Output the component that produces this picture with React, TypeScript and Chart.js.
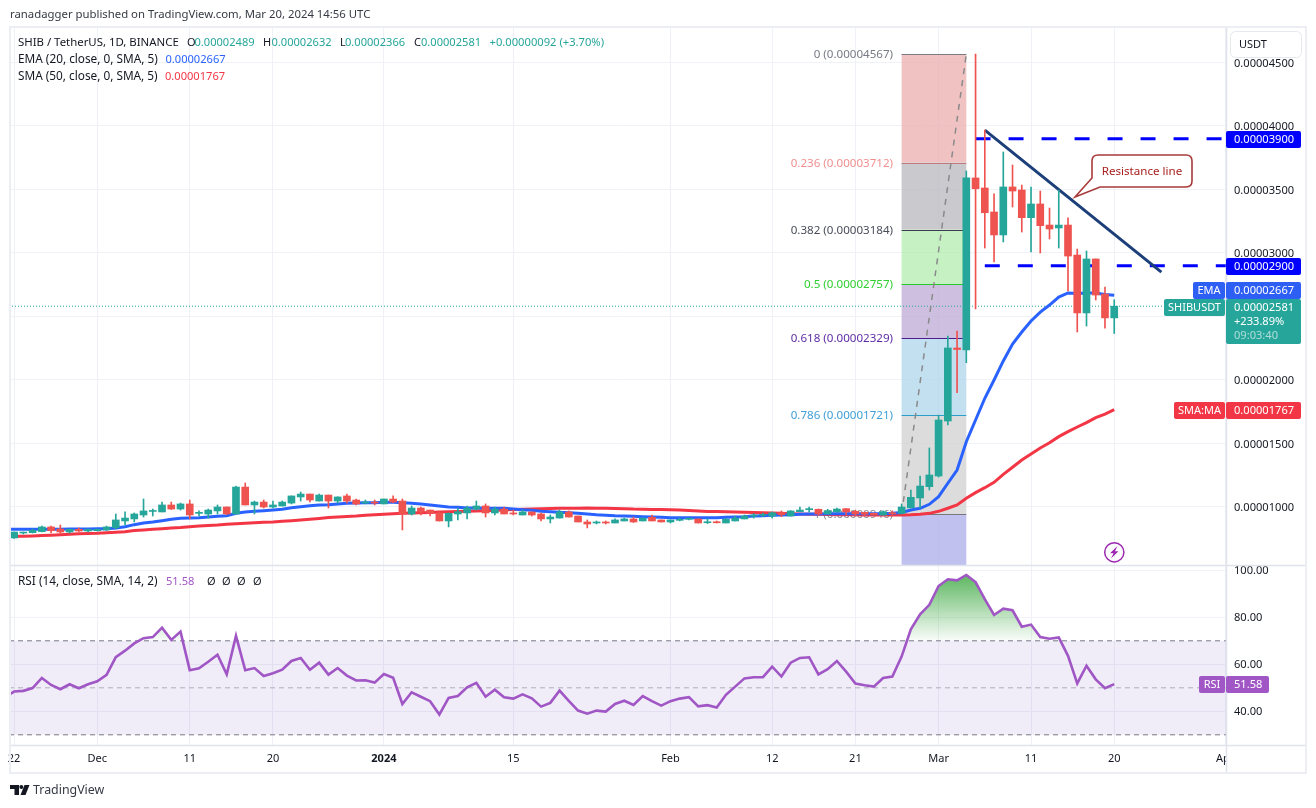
import React, { useEffect, useRef } from "react";
import { Chart, registerables } from "chart.js";

Chart.register(...registerables);

// Prices are kept in units of 0.00000001 USDT.
const PRICE_UNIT = 1e-8;

const opens = [
  756,795,798,806,843,827,803,824,811,813,
  819,837,890,906,937,965,961,1016,984,1024,
  950,945,969,1000,945,1157,1016,1039,1000,1008,
  1031,1079,1102,1047,1094,1047,1087,1055,1031,1037,
  1024,1063,1047,945,992,976,953,890,945,953,
  984,1008,953,984,953,937,961,945,906,913,
  961,929,882,874,882,874,890,906,890,919,
  898,882,895,903,906,876,884,874,890,906,
  929,935,929,955,929,963,979,982,945,961,
  987,966,958,950,937,955,950,994,1071,1160,
  1244,1677,2252,2236,3591,3512,3323,3142,3520,3496,
  3278,3386,3220,3197,3220,2984,2528,2953,2677,2489,
];
const closes = [
  803,801,817,843,813,803,824,811,824,824,
  843,898,913,945,969,972,1016,984,1024,937,
  958,976,1000,945,1157,1016,1039,1000,1016,1039,
  1087,1102,1055,1094,1047,1079,1047,1024,1039,1031,
  1063,1039,945,992,961,953,890,950,963,992,
  1008,953,984,945,945,961,937,906,921,961,
  921,882,866,882,874,898,906,882,913,890,
  882,898,903,908,874,884,876,903,913,929,
  937,943,955,939,969,976,987,945,971,984,
  961,945,943,939,963,947,1000,1076,1165,1252,
  1685,2252,2240,3591,3506,3317,3142,3520,3488,3278,
  3386,3215,3189,3220,2976,2528,2953,2669,2489,2581,
];
const highs = [
  803,803,827,850,850,858,827,835,827,827,
  850,945,961,953,1063,984,1039,1039,1031,1055,
  969,984,1016,1000,1165,1189,1047,1055,1047,1047,
  1087,1118,1102,1102,1094,1081,1102,1063,1055,1055,
  1063,1087,1063,1008,1000,976,961,953,992,1008,
  1047,1024,1000,1000,976,976,961,953,937,976,
  969,929,898,890,890,906,913,921,913,937,
  898,898,913,913,906,908,890,911,929,937,
  947,953,961,969,972,1000,1000,984,982,992,
  988,976,961,953,969,969,1024,1134,1244,1465,
  1724,2346,2386,3646,4567,3968,3465,3795,3693,3535,
  3520,3488,3354,3496,3276,3031,3016,2953,2732,2632,
];
const lows = [
  752,787,795,803,795,795,795,807,803,811,
  815,827,858,882,921,929,961,980,976,906,
  929,913,945,941,941,1016,945,992,992,1008,
  1024,1047,1039,1047,992,1031,1031,1016,1024,1016,
  1024,1035,819,937,937,929,890,843,898,906,
  976,921,937,945,937,937,929,890,874,913,
  921,882,835,866,866,874,890,878,890,890,
  882,874,890,898,874,870,874,874,890,906,
  913,924,913,924,929,961,961,937,945,961,
  937,929,929,937,937,937,945,992,992,1134,
  1236,1646,1900,2136,2559,3039,2929,3087,3362,3165,
  3008,3000,3110,3039,2701,2378,2425,2630,2409,2366,
];
// ema, sma and rsi begin one day before the first candle (the day at index -1).
const ema = [
  824,824,824,824,824,825,825,826,826,827,828,
  829,835,845,861,874,882,892,903,911,913,
  916,921,927,931,950,961,966,971,976,982,
  994,1002,1010,1016,1018,1024,1029,1031,1034,1034,
  1037,1037,1034,1029,1024,1016,1008,1000,998,992,
  992,990,990,990,984,979,974,966,963,958,
  955,950,945,939,935,931,929,927,924,921,
  919,916,916,916,916,916,916,919,921,924,
  929,931,935,937,939,943,945,945,947,947,
  947,947,947,947,947,950,957,976,990,1021,
  1081,1187,1291,1514,1685,1856,2000,2150,2283,2378,
  2465,2535,2590,2653,2685,2681,2685,2685,2673,2667,
];
const sma = [
  768,769,770,772,775,778,782,786,789,792,794,
  798,802,806,814,819,824,829,835,839,845,
  850,854,858,864,868,872,876,879,882,887,
  892,898,904,910,917,921,925,929,935,939,
  943,946,950,953,955,957,960,962,965,967,
  969,971,974,976,980,982,984,987,989,990,
  991,991,992,991,991,989,987,984,983,981,
  980,978,976,973,969,965,964,962,961,959,
  956,954,952,950,947,945,943,942,940,939,
  939,938,937,937,937,937,937,939,943,950,
  966,990,1016,1069,1113,1152,1194,1257,1313,1370,
  1417,1465,1506,1554,1593,1630,1664,1703,1732,1767,
];
const rsi = [
  46.0,48.4,48.7,49.9,54.2,51.2,49.4,51.5,49.8,51.5,52.8,
  55.5,63.0,65.8,68.9,71.1,71.6,75.6,70.4,73.9,57.5,
  58.3,61.1,64.1,55.7,72.1,57.5,58.4,55.0,56.2,57.7,
  61.4,62.7,57.7,60.7,55.6,58.4,55.2,53.1,53.2,52.2,
  55.9,54.3,43.1,48.1,46.2,44.3,38.6,45.7,46.5,50.2,
  52.1,46.2,49.2,46.0,45.4,47.2,45.5,42.0,43.6,48.8,
  44.4,40.3,39.0,40.3,39.9,43.1,44.5,42.7,46.5,44.3,
  42.4,44.3,45.4,46.0,42.1,42.6,41.6,47.0,50.5,54.0,
  54.5,54.5,59.0,54.8,60.7,62.7,63.0,55.7,57.9,61.4,
  56.9,51.8,51.1,50.5,54.2,54.8,63.3,74.9,81.3,85.3,
  93.3,96.2,95.7,98.0,95.0,87.7,81.0,83.7,83.0,76.0,
  76.9,71.6,70.9,71.4,63.6,51.9,59.4,53.6,49.8,51.58,
];

const dayTicks = [0, 9, 19, 28, 40, 54, 71, 82, 91, 100, 110, 119, 131];
const dayTickLabels = ["22", "Dec", "11", "20", "2024", "15", "Feb", "12", "21", "Mar", "11", "20", "Apr"];
const priceTicks = [1000, 1500, 2000, 2500, 3000, 3500, 4000, 4500];
const hiddenPriceTicks = [2500];
const rsiTicks = [40, 60, 80, 100];
const rsiBands = [70, 50, 30];

const fibRatios = ["0", "0.236", "0.382", "0.5", "0.618", "0.786", "1"];
const fibPrices = [4567, 3712, 3184, 2757, 2329, 1721, 946];
const fibDays = [96, 103];
const fibDiagonal = [946, 4567];

const supportDays = [105, 131.09];
const supportPrice = 2900;
const resistanceDays = [104, 131.09];
const resistancePrice = 3900;
const trendDays = [105, 124.1];
const trendPrices = [3968, 2850];
const lastClose = 2581;

const X_MIN = -0.552;
const X_MAX = 131.09;
const GREEN = "#26a69a";
const RED = "#ef5350";
const BLUE_LINE = "#2962ff";
const RED_LINE = "#f23645";
const PURPLE = "#a056c5";
const FONT = '"Noto Sans"';

const fibLabelColors = ["#787b86", "#f08f8f", "#4a4e5a", "#2fcf2f", "#5e2ca5", "#3f9fd6", "#8a8c94"];
const fibLineColors = ["#787b86", "#c07a7a", "#3c3c50", "#22cc22", "#4b1a8f", "#2b9fc9", "#787878"];
const fibFills = ["rgba(236,170,170,0.72)", "rgba(186,186,192,0.78)", "rgba(175,236,172,0.72)", "rgba(190,170,214,0.75)", "rgba(172,212,236,0.72)", "rgba(208,208,208,0.75)", "rgba(176,178,234,0.8)"];

const fmt = (v: number) => (v * PRICE_UNIT).toFixed(8);
const p = (v: number) => v * PRICE_UNIT;

function text(ctx: any, s: string, x: number, y: number, color: string, size = 11, align = "left", weight = "") {
  ctx.font = `${weight} ${size}px ${FONT}`.trim();
  ctx.fillStyle = color;
  ctx.textAlign = align;
  ctx.textBaseline = "middle";
  ctx.fillText(s, x, y + 0.7);
}

function tag(ctx: any, x0: number, x1: number, y0: number, y1: number, color: string) {
  ctx.fillStyle = color;
  ctx.beginPath();
  ctx.roundRect(x0, y0, x1 - x0, y1 - y0, 2);
  ctx.fill();
}

const underlay = {
  id: "underlay",
  beforeDatasetsDraw(chart: any) {
    const { ctx, chartArea, scales } = chart;
    const x0 = scales.x.getPixelForValue(fibDays[0]);
    const x1 = scales.x.getPixelForValue(fibDays[1]);
    const yScale = scales.y;
    const paneBottom = yScale.bottom;
    ctx.save();
    fibPrices.forEach((v, i) => {
      const top = yScale.getPixelForValue(p(v));
      const bottom = i + 1 < fibPrices.length ? yScale.getPixelForValue(p(fibPrices[i + 1])) : paneBottom;
      ctx.fillStyle = fibFills[i];
      ctx.fillRect(x0, top, x1 - x0, bottom - top);
    });
    fibPrices.forEach((v, i) => {
      const y = yScale.getPixelForValue(p(v));
      ctx.strokeStyle = fibLineColors[i];
      ctx.lineWidth = 1;
      ctx.beginPath();
      ctx.moveTo(x0, Math.round(y) + 0.5);
      ctx.lineTo(x1, Math.round(y) + 0.5);
      ctx.stroke();
      text(ctx, `${fibRatios[i]} (${fmt(v)})`, x0 - 8.5, y, fibLabelColors[i], 11.6, "right");
    });

    // RSI pane band
    const r = scales.yRsi;
    const yTop = r.getPixelForValue(rsiBands[0]);
    const yBottom = r.getPixelForValue(rsiBands[2]);
    ctx.fillStyle = "rgba(126,87,194,0.115)";
    ctx.fillRect(chartArea.left, yTop, chartArea.right - chartArea.left, yBottom - yTop);

    // Overbought area under the RSI line
    const grad = ctx.createLinearGradient(0, r.getPixelForValue(98), 0, yTop);
    grad.addColorStop(0, "rgba(76,175,80,0.9)");
    grad.addColorStop(1, "rgba(76,175,80,0.03)");
    ctx.beginPath();
    ctx.rect(chartArea.left, r.top, chartArea.right - chartArea.left, yTop - r.top);
    ctx.clip();
    ctx.beginPath();
    rsi.forEach((v, i) => {
      const x = scales.x.getPixelForValue(i - 1);
      const y = r.getPixelForValue(v);
      if (i === 0) ctx.moveTo(x, y);
      else ctx.lineTo(x, y);
    });
    ctx.lineTo(scales.x.getPixelForValue(rsi.length - 2), yTop);
    ctx.lineTo(scales.x.getPixelForValue(-1), yTop);
    ctx.closePath();
    ctx.fillStyle = grad;
    ctx.fill();
    ctx.restore();
  },
};

const overlay = {
  id: "overlay",
  afterDraw(chart: any) {
    const { ctx } = chart;
    ctx.save();

    // Callout
    ctx.beginPath();
    ctx.moveTo(1098, 155);
    ctx.lineTo(1186, 155);
    ctx.quadraticCurveTo(1192, 155, 1192, 161);
    ctx.lineTo(1192, 181);
    ctx.quadraticCurveTo(1192, 187, 1186, 187);
    ctx.lineTo(1100, 187);
    ctx.lineTo(1075, 197);
    ctx.lineTo(1092, 178);
    ctx.lineTo(1092, 161);
    ctx.quadraticCurveTo(1092, 155, 1098, 155);
    ctx.closePath();
    ctx.fillStyle = "#ffffff";
    ctx.fill();
    ctx.strokeStyle = "#a83a3a";
    ctx.lineWidth = 1.6;
    ctx.stroke();
    text(ctx, "Resistance line", 1142, 170.5, "#a82020", 11.6, "center");

    // Time axis corner clears what runs past the time scale
    ctx.fillStyle = "#ffffff";
    ctx.fillRect(1227, 746, 79, 27);
    // Scale top clears the first tick under the currency button
    ctx.fillRect(1228, 28, 77, 31);

    // Frame and separators
    ctx.strokeStyle = "#e0e3eb";
    ctx.lineWidth = 1.5;
    ctx.beginPath();
    ctx.moveTo(11, 565.5);
    ctx.lineTo(1305, 565.5);
    ctx.moveTo(11, 745.5);
    ctx.lineTo(1305, 745.5);
    ctx.moveTo(1226.5, 28);
    ctx.lineTo(1226.5, 772);
    ctx.stroke();
    ctx.strokeStyle = "#eceef3";
    ctx.lineWidth = 2;
    ctx.strokeRect(10, 27, 1296, 746);

    // Currency button
    ctx.fillStyle = "#ffffff";
    ctx.strokeStyle = "#e6e8ef";
    ctx.lineWidth = 1;
    ctx.beginPath();
    ctx.roundRect(1230.5, 31.5, 71, 26, 5);
    ctx.fill();
    ctx.stroke();
    text(ctx, "USDT", 1239, 44, "#131722", 11);

    // Price tags
    tag(ctx, 1226, 1301, 131, 148, "#0000ff");
    text(ctx, fmt(resistancePrice), 1234, 139.5, "#ffffff", 11.1);
    tag(ctx, 1226, 1301, 258, 275, "#0000ff");
    text(ctx, fmt(supportPrice), 1234, 266.5, "#ffffff", 11.1);

    tag(ctx, 1193, 1225, 282, 299, "#2e5ff5");
    text(ctx, "EMA", 1209, 290.5, "#ffffff", 11, "center");
    tag(ctx, 1226, 1301, 282, 299, "#2e5ff5");
    text(ctx, fmt(ema[ema.length - 1]), 1234, 290.5, "#ffffff", 11.1);

    tag(ctx, 1164, 1225, 299, 316, GREEN);
    text(ctx, "SHIBUSDT", 1194.5, 307.5, "#ffffff", 11, "center");
    tag(ctx, 1226, 1301, 299, 344, GREEN);
    text(ctx, fmt(lastClose), 1234, 307.5, "#ffffff", 11.1);
    text(ctx, "+233.89%", 1234, 321.5, "#ffffff", 11.1);
    text(ctx, "09:03:40", 1234, 335.5, "rgba(255,255,255,0.62)", 11.1);

    tag(ctx, 1174, 1225, 402, 419, RED_LINE);
    text(ctx, "SMA:MA", 1199.5, 410.5, "#ffffff", 11, "center");
    tag(ctx, 1226, 1301, 402, 419, RED_LINE);
    text(ctx, fmt(sma[sma.length - 1]), 1234, 410.5, "#ffffff", 11.1);

    tag(ctx, 1199, 1225, 676, 693, PURPLE);
    text(ctx, "RSI", 1212, 684.5, "#ffffff", 11, "center");
    tag(ctx, 1226, 1269, 676, 693, PURPLE);
    text(ctx, rsi[rsi.length - 1].toFixed(2), 1234, 684.5, "#ffffff", 11.1);

    // Alert icon
    ctx.strokeStyle = "#9c27b0";
    ctx.lineWidth = 1.5;
    ctx.beginPath();
    ctx.arc(1114.3, 552.3, 9.6, 0, Math.PI * 2);
    ctx.stroke();
    ctx.fillStyle = "#9c27b0";
    ctx.beginPath();
    ctx.moveTo(1117.5, 546);
    ctx.lineTo(1110, 553.3);
    ctx.lineTo(1113.6, 553.3);
    ctx.lineTo(1111, 558.5);
    ctx.lineTo(1118.5, 551.3);
    ctx.lineTo(1115, 551.3);
    ctx.closePath();
    ctx.fill();

    // Heading
    text(ctx, "ranadagger published on TradingView.com, Mar 20, 2024 14:56 UTC", 10, 14, "#363a45", 11.35);

    // Legend
    const dark = "#131722";
    text(ctx, "SHIB / TetherUS, 1D, BINANCE", 18, 42, dark, 11.4);
    text(ctx, "O", 187, 42, dark);
    text(ctx, fmt(opens[opens.length - 1]), 194.5, 42, GREEN, 11.1);
    text(ctx, "H", 263, 42, dark);
    text(ctx, fmt(highs[highs.length - 1]), 271.5, 42, GREEN, 11.1);
    text(ctx, "L", 340, 42, dark);
    text(ctx, fmt(lows[lows.length - 1]), 345, 42, GREEN, 11.1);
    text(ctx, "C", 414, 42, dark);
    text(ctx, fmt(closes[closes.length - 1]), 421, 42, GREEN, 11.1);
    text(ctx, "+0.00000092 (+3.70%)", 489.5, 42, GREEN, 11.2);
    text(ctx, "EMA (20, close, 0, SMA, 5)", 18, 59, dark, 11.8);
    text(ctx, fmt(ema[ema.length - 1]), 165.5, 59, BLUE_LINE, 11.1);
    text(ctx, "SMA (50, close, 0, SMA, 5)", 18, 76, dark, 11.8);
    text(ctx, fmt(sma[sma.length - 1]), 165, 76, RED_LINE, 11.1);

    text(ctx, "RSI (14, close, SMA, 14, 2)", 18, 581, dark, 11.8);
    text(ctx, rsi[rsi.length - 1].toFixed(2), 166, 581, PURPLE, 11.1);
    ["207", "222", "237", "253"].forEach((x) => text(ctx, "Ø", Number(x), 581, dark));

    // TradingView mark
    ctx.fillStyle = "#131722";
    ctx.fillRect(10, 785, 9, 4);
    ctx.fillRect(14.5, 785, 4.5, 10);
    ctx.beginPath();
    ctx.arc(21.3, 787, 2, 0, Math.PI * 2);
    ctx.fill();
    ctx.beginPath();
    ctx.moveTo(24.5, 785);
    ctx.lineTo(29.5, 785);
    ctx.lineTo(25.5, 795);
    ctx.lineTo(20.5, 795);
    ctx.closePath();
    ctx.fill();
    text(ctx, "TradingView", 33, 789.5, "#363a45", 12.4);

    ctx.restore();
  },
};

const line = (id: string, data: any[], color: string, width: number, yAxisID: string, order: number, dash: number[] = []) => ({
  type: "line" as const,
  label: id,
  data,
  borderColor: color,
  borderWidth: width,
  borderDash: dash,
  pointRadius: 0,
  tension: 0,
  fill: false,
  xAxisID: "x",
  yAxisID,
  order,
});

export default function App() {
  const ref = useRef<HTMLCanvasElement | null>(null);

  useEffect(() => {
    if (!ref.current) return;
    const days = opens.map((_, i) => i);
    const candleColors = days.map((i) => (closes[i] >= opens[i] ? GREEN : RED));
    const atX = (values: number[], unit = 1) => values.map((v, i) => ({ x: i - 1, y: v * unit }));
    const chart = new Chart(ref.current, {
      type: "bar",
      data: {
        datasets: [
          {
            type: "bar",
            label: "Body",
            data: days.map((i) => ({ x: i, y: [p(opens[i]), p(closes[i])] })),
            backgroundColor: candleColors,
            barThickness: 7,
            minBarLength: 1,
            grouped: false,
            xAxisID: "x",
            yAxisID: "y",
            order: 0,
          },
          {
            type: "bar",
            label: "Wick",
            data: days.map((i) => ({ x: i, y: [p(lows[i]), p(highs[i])] })),
            backgroundColor: candleColors,
            barThickness: 1,
            grouped: false,
            xAxisID: "x",
            yAxisID: "y",
            order: 1,
          },
          line("EMA", atX(ema, PRICE_UNIT), BLUE_LINE, 3, "y", 4),
          line("SMA", atX(sma, PRICE_UNIT), RED_LINE, 3, "y", 5),
          line("Trend", trendDays.map((x, i) => ({ x, y: p(trendPrices[i]) })), "#1c3f7a", 3, "y", 2),
          line("Resistance", resistanceDays.map((x) => ({ x, y: p(resistancePrice) })), "#0000ff", 3, "y", 3, [15, 18]),
          line("Support", supportDays.map((x) => ({ x, y: p(supportPrice) })), "#0000ff", 3, "y", 3, [15, 18]),
          line("Fib trend", fibDays.map((x, i) => ({ x, y: p(fibDiagonal[i]) })), "#8a8a8a", 1.5, "y", 6, [6, 6]),
          line("Last close", [{ x: X_MIN, y: p(lastClose) }, { x: X_MAX, y: p(lastClose) }], GREEN, 1, "y", 7, [1, 2]),
          line("RSI", atX(rsi), PURPLE, 2.6, "yRsi", 1),
          ...rsiBands.map((b, i) =>
            line(`RSI ${b}`, [{ x: X_MIN, y: b }, { x: X_MAX, y: b }], i === 1 ? "#b0aeb8" : "#787b86", 1, "yRsi", 8, [5, 4])
          ),
        ] as any,
      },
      options: {
        responsive: false,
        animation: false,
        events: [],
        layout: { padding: { left: 9, top: 27, right: 10, bottom: 36 } },
        plugins: { legend: { display: false }, tooltip: { enabled: false } },
        scales: {
          x: {
            type: "linear",
            position: "bottom",
            min: X_MIN,
            max: X_MAX,
            offset: false,
            afterBuildTicks: (s: any) => {
              s.ticks = dayTicks.map((value) => ({ value }));
            },
            afterFit: (s: any) => {
              s.height = 27;
            },
            grid: { color: "#eff1f6", offset: false, drawTicks: false },
            border: { display: false },
            ticks: {
              autoSkip: false,
              maxRotation: 0,
              padding: 7,
              color: "#131722",
              font: (c: any) => ({ family: FONT, size: 11, weight: c.tick && c.tick.value === 40 ? "bold" : "normal" }),
              callback: (v: any) => dayTickLabels[dayTicks.indexOf(v)] ?? "",
            },
          },
          y: {
            type: "linear",
            position: "right",
            stack: "panes",
            stackWeight: 539,
            weight: 0,
            min: p(535.4),
            max: p(4779.5),
            beginAtZero: false,
            afterBuildTicks: (s: any) => {
              s.ticks = priceTicks.map((v) => ({ value: p(v) }));
            },
            afterFit: (s: any) => {
              s.width = 80;
            },
            grid: { color: "#f0f2f7", drawTicks: false },
            border: { display: false },
            ticks: {
              padding: 8,
              labelOffset: 1,
              color: "#131722",
              font: { family: FONT, size: 11.1 },
              callback: (v: any) => {
                const units = Math.round(v / PRICE_UNIT);
                return hiddenPriceTicks.includes(units) ? "" : fmt(units);
              },
            },
          },
          yRsi: {
            type: "linear",
            position: "right",
            stack: "panes",
            stackWeight: 179,
            weight: 1,
            min: 25.66,
            max: 101.83,
            afterBuildTicks: (s: any) => {
              s.ticks = rsiTicks.map((value) => ({ value }));
            },
            afterFit: (s: any) => {
              s.width = 80;
            },
            grid: { color: "#f0f2f7", drawTicks: false },
            border: { display: false },
            ticks: {
              padding: 8,
              labelOffset: 1,
              color: "#131722",
              font: { family: FONT, size: 11.1 },
              callback: (v: any) => Number(v).toFixed(2),
            },
          },
        },
      } as any,
      plugins: [underlay, overlay],
    });
    return () => chart.destroy();
  }, []);

  return (
    <div style={{ position: "absolute", left: 0, top: 0, width: 1316, height: 808, background: "#fff" }}>
      <canvas ref={ref} width={1316} height={808} style={{ display: "block" }} />
    </div>
  );
}
